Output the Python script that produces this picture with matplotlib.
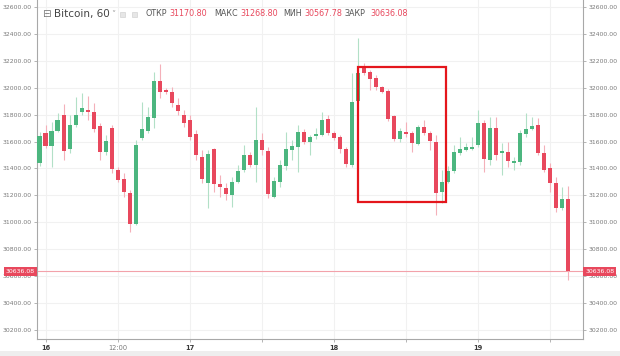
import matplotlib
matplotlib.use('Agg')
import matplotlib.pyplot as plt
from matplotlib.patches import Rectangle
from matplotlib.transforms import blended_transform_factory

# ---- data (hourly candles, hour 0 = day 16 00:00) ----
hours = list(range(-1, 88))
opens = [31439, 31662, 31567, 31681, 31798, 31543, 31721, 31822, 31832, 31822,
         31718, 31525, 31703, 31389, 31320, 31220, 30988, 31624, 31681, 31773,
         32050, 31983, 31971, 31872, 31798, 31760, 31656, 31488, 31295, 31543,
         31283, 31253, 31203, 31302, 31389, 31500, 31426, 31612, 31532, 31191,
         31302, 31419, 31537, 31562, 31673, 31599, 31641, 31649, 31768, 31662,
         31632, 31543, 31426, 31902, 32157, 32115, 32075, 32003, 31976, 31790,
         31617, 31669, 31662, 31580, 31706, 31662, 31599, 31228, 31302, 31384,
         31518, 31537, 31545, 31575, 31736, 31463, 31699, 31518, 31525, 31439,
         31451, 31654, 31691, 31723, 31513, 31401, 31290, 31109, 31170.80]
highs = [31670, 31725, 31748, 31810, 31879, 31798, 31934, 31961, 31941, 31884,
         31736, 31649, 31723, 31413, 31369, 31240, 31612, 31896, 31859, 32119,
         32176, 32000, 32008, 31922, 31835, 31798, 31686, 31537, 31537, 31550,
         31352, 31290, 31339, 31426, 31575, 31525, 31859, 31662, 31562, 31339,
         31463, 31673, 31612, 31723, 31690, 31649, 31700, 31822, 31798, 31680,
         31649, 31562, 32107, 32370, 32184, 32132, 32095, 32015, 31990, 31800,
         31699, 31748, 31680, 31723, 31760, 31675, 31649, 31389, 31420, 31575,
         31636, 31590, 31636, 31835, 31760, 31785, 31785, 31587, 31599, 31488,
         31686, 31812, 31785, 31773, 31575, 31439, 31339, 31265, 31268.80]
lows = [31420, 31555, 31411, 31673, 31463, 31513, 31711, 31798, 31760, 31673,
        31463, 31500, 31364, 31302, 31191, 30930, 30980, 31612, 31662, 31699,
        31922, 31950, 31859, 31798, 31711, 31612, 31463, 31290, 31106, 31228,
        31191, 31166, 31116, 31290, 31376, 31413, 31302, 31500, 31179, 31179,
        31265, 31389, 31463, 31376, 31580, 31500, 31620, 31641, 31649, 31610,
        31513, 31413, 31413, 31887, 32095, 31983, 31983, 31960, 31755, 31605,
        31599, 31636, 31525, 31575, 31650, 31537, 31055, 31141, 31290, 31364,
        31500, 31530, 31537, 31562, 31376, 31426, 31463, 31352, 31413, 31389,
        31426, 31636, 31686, 31500, 31376, 31228, 31079, 31092, 30567.78]
closes = [31644, 31567, 31681, 31760, 31532, 31721, 31798, 31847, 31818, 31694,
          31525, 31607, 31394, 31315, 31228, 30988, 31575, 31691, 31780, 32050,
          31971, 31966, 31884, 31827, 31736, 31636, 31500, 31322, 31508, 31283,
          31261, 31208, 31302, 31384, 31500, 31426, 31612, 31537, 31211, 31309,
          31426, 31543, 31567, 31669, 31599, 31632, 31654, 31760, 31662, 31624,
          31543, 31431, 31896, 32112, 32107, 32063, 32003, 31971, 31766, 31617,
          31681, 31654, 31592, 31711, 31662, 31607, 31216, 31302, 31382, 31525,
          31543, 31562, 31562, 31740, 31471, 31699, 31500, 31525, 31458, 31458,
          31662, 31691, 31716, 31513, 31389, 31295, 31109, 31171, 30636.08]

x_ticks = [0, 12, 24, 36, 48, 60, 72, 84]
x_tick_labels = ['16', '12:00', '17', '', '18', '', '19', '']
price_ticks = list(range(30200, 32601, 200))
last_close = 30636.08

symbol = 'Bitcoin, 60'
ohlc_names = ['ОТКР', 'МАКС', 'МИН', 'ЗАКР']
ohlc_values = ['31170.80', '31268.80', '30567.78', '30636.08']

highlight_hours = (52.05, 66.65)
highlight_prices = (31153, 32156)

# ---- style ----
UP = '#4cb67f'
DOWN = '#e8485d'
UP_WICK = '#b2e0c7'
DOWN_WICK = '#f4b0b9'
GRID = '#f1f1f1'
AXIS = '#a8a8a8'
LABEL = '#7a7a7a'

W, H = 620, 356
fig = plt.figure(figsize=(W / 100, H / 100), dpi=100)
fig.patch.set_facecolor('white')
ax = fig.add_axes([37 / W, 17 / H, 546 / W, 339 / H])

for h, o, hi, lo, c in zip(hours, opens, highs, lows, closes):
    up = c >= o
    ax.vlines(h, lo, hi, color=UP_WICK if up else DOWN_WICK, lw=0.8, zorder=2)
    bottom = min(o, c)
    height = max(abs(c - o), 9)
    ax.bar(h, height, bottom=bottom, width=0.74, color=UP if up else DOWN,
           linewidth=0, zorder=3)

ax.axhline(last_close, color='#f2a2aa', lw=0.8, zorder=1)

ax.add_patch(Rectangle((highlight_hours[0], highlight_prices[0]),
                       highlight_hours[1] - highlight_hours[0],
                       highlight_prices[1] - highlight_prices[0],
                       fill=False, edgecolor='#e4161c', lw=1.6, zorder=5))

ax.set_xlim(-1.45, 89.46)
ax.set_ylim(30133, 32652)

ax.set_yticks(price_ticks)
ax.set_yticklabels([f'{p:.2f}' for p in price_ticks])
ax.set_xticks(x_ticks)
ax.set_xticklabels(x_tick_labels)
for lab, txt in zip(ax.get_xticklabels(), x_tick_labels):
    if txt in ('16', '17', '18', '19'):
        lab.set_fontweight('bold')
        lab.set_color('#3a3a3a')
    else:
        lab.set_color(LABEL)

ax.grid(True, color=GRID, lw=0.8, zorder=0)
ax.set_axisbelow(True)
ax.tick_params(axis='y', left=True, right=True, labelleft=True, labelright=True,
               length=2.5, width=0.6, color=AXIS, labelsize=4.4, labelcolor=LABEL, pad=1.5)
ax.tick_params(axis='x', length=2.5, width=0.6, color=AXIS, labelsize=4.8, pad=1.5)

for s in ['left', 'right', 'bottom']:
    ax.spines[s].set_color(AXIS)
    ax.spines[s].set_linewidth(0.8)
ax.spines['top'].set_visible(False)

# price label boxes
tr = blended_transform_factory(ax.transAxes, ax.transData)
for xpos, ha in [(-0.004, 'right'), (1.004, 'left')]:
    ax.text(xpos, last_close, f'{last_close:.2f}', transform=tr, ha=ha, va='center',
            fontsize=4.4, color='white', zorder=6, clip_on=False,
            bbox=dict(boxstyle='square,pad=0.35', facecolor='#e8485d', edgecolor='none'))

# bottom strip
fig.add_artist(Rectangle((0, 0), 1, 5 / H, transform=fig.transFigure,
                         facecolor='#eeeeee', edgecolor='none'))

# header
yh = 1 - 14 / H
fig.text(42 / W, yh, '⊟', fontsize=7.5, color='#777777', va='center', ha='left')
fig.text(54 / W, yh, symbol, fontsize=7.5, color='#444444', va='center', ha='left')
fig.text(111 / W, yh - 1 / H, '˅', fontsize=6, color='#999999', va='center', ha='left')
for xx in (120, 132):
    fig.add_artist(Rectangle((xx / W, (H - 17) / H), 5 / W, 5 / H, transform=fig.transFigure,
                             facecolor='#e6e6e6', edgecolor='#cccccc', lw=0.4))
name_x = [145, 214, 283, 345]
val_x = [169, 240, 304, 370]
for nx, vx, n, v in zip(name_x, val_x, ohlc_names, ohlc_values):
    fig.text(nx / W, yh, n, fontsize=5.8, color='#555555', va='center', ha='left')
    fig.text(vx / W, yh, v, fontsize=5.8, color='#e8485d', va='center', ha='left')

fig.savefig('out.png', dpi=100, facecolor='white')
